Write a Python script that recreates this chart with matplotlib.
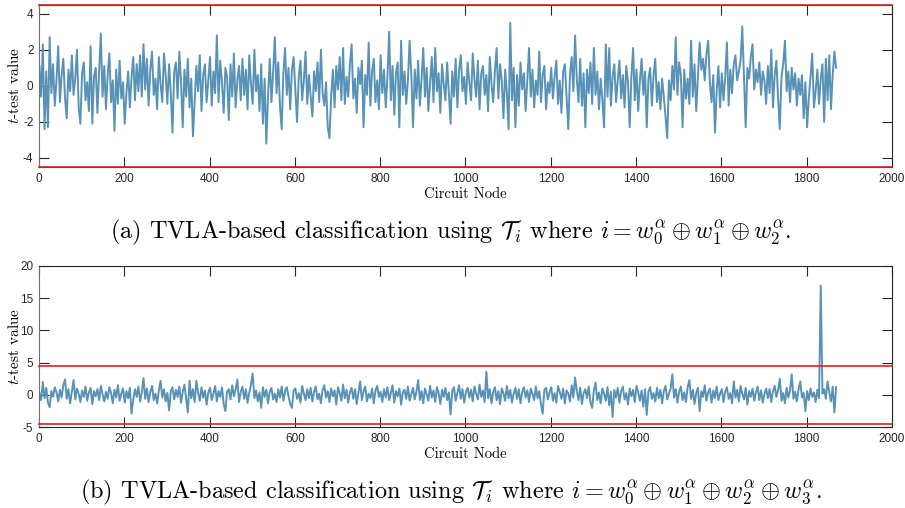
import matplotlib.pyplot as plt
import numpy as np

# t-test value for every 4th circuit node
t_a = [1.1, -0.6, 2.3, -2.4, 0.8, -2.3, 2.7, -0.4, 1.2, -1.1, 0.3, 2.2, -0.9, 0.6, 1.5, -0.7, -1.8, 0.9, -0.3, 1.7,
       -0.5, 0.4, 2.0, -1.2, -2.1, 0.7, 1.3, -0.8, 0.2, -1.4, 2.2, -2.1, 0.5, 1.0, -1.5, 0.8, 2.9, -0.6, 1.1, -1.3,
       0.6, 1.8, -0.9, 0.3, -2.5, 0.9, -1.0, 1.4, -0.7, 0.2, -2.1, -0.4, 0.8, -1.2, 0.5, 1.6, -0.8, 1.2, -0.3, 1.7,
       -0.6, 2.3, -0.2, 1.5, -1.1, 0.9, 1.9, -0.5, 0.4, -1.3, 1.6, 0.1, -0.9, 1.8, 0.6, -1.0, 1.2, -0.4, -2.6, 0.8,
       1.3, -0.7, 1.9, 0.2, -2.3, 0.9, -0.6, 1.5, -1.2, 0.4, -2.8, -0.8, 1.1, -0.3, 1.7, -1.4, 0.6, 1.2, -0.9, 0.3,
       1.6, -1.1, 0.8, -0.4, 2.8, -0.9, 1.4, 0.2, -1.5, 1.0, 0.5, -1.9, 1.2, -0.6, 1.8, -1.2, 0.3, 1.1, -0.8, 1.5,
       -0.5, 0.9, -1.3, 1.7, 0.1, -1.0, 2.0, -0.3, 0.6, -1.4, 1.2, -2.1, 0.4, -3.2, -0.6, 1.5, -0.9, 0.8, 2.7, -0.4,
       1.3, -1.1, -2.4, 0.7, 2.1, -0.5, 1.0, -1.3, 0.9, 1.6, -0.2, -2.0, 0.5, 1.4, -0.8, 0.3, 1.9, -1.0, 0.6, -0.6,
       -1.7, 0.8, -0.3, 1.3, -0.9, 2.0, -0.4, -1.1, 0.2, -2.3, -2.9, -0.6, 0.9, -1.2, 1.1, -0.2, 1.6, -0.8, 2.1, -1.0,
       0.5, -0.6, 1.2, 2.3, -0.7, 0.4, -1.5, 1.0, 0.1, 1.4, -2.3, 0.6, -0.5, 2.4, -1.1, 0.8, 1.5, -0.9, 0.3, -1.3,
       1.7, -0.4, 0.9, -1.2, 0.5, 3.0, -0.8, 1.1, -1.6, 0.7, 1.3, -2.3, 2.5, -0.5, 0.8, -1.0, 0.3, 2.5, 0.6, -2.3,
       0.9, -0.7, 1.4, -1.1, 0.4, 2.1, -0.6, 1.0, -1.4, 0.2, 1.6, -0.9, 2.1, -0.3, 0.7, -1.5, 1.2, 0.1, -0.8, 1.3,
       -0.4, -2.1, 0.8, -0.6, 1.5, -1.2, 0.9, 1.7, -0.3, 0.5, -1.0, 1.3, 0.2, -0.8, 1.8, 0.4, -0.6, 1.4, -1.3, 0.7,
       1.1, -0.5, 0.6, -1.4, 1.6, 0.1, -0.9, 0.8, 2.1, -0.7, 1.2, 0.3, -1.8, 0.9, -0.4, -2.4, 3.5, -0.8, 1.0, -2.3,
       0.6, -1.1, 1.3, -0.2, 0.7, -1.4, 0.4, 2.1, -0.6, 0.9, -1.2, 0.3, -0.5, 1.9, -0.9, 0.6, 1.1, -1.3, 0.2, -0.4,
       1.0, -0.7, 0.5, 1.4, -1.0, 0.3, -1.5, 0.8, 1.2, -0.6, -2.4, 0.6, 1.6, -0.3, 2.8, 0.4, -0.9, 1.5, -1.1, 0.7,
       -2.3, 0.9, -0.4, 1.3, -1.0, 2.1, -0.5, 0.8, -1.3, 0.4, -0.8, -2.3, 2.3, -0.6, 2.1, -1.1, 0.5, 1.2, -0.9, 0.3,
       1.4, -0.7, 0.6, -1.2, 1.1, 0.2, -2.3, 0.5, 2.1, -0.8, 0.9, -1.4, 0.3, 1.5, -0.5, 0.8, -2.3, 0.4, 1.0, -1.1,
       0.6, 1.5, -0.9, 0.2, -1.3, 0.4, -0.6, -1.7, -2.9, 0.3, -0.8, 1.1, -0.2, 2.7, -0.5, 1.3, 0.6, -2.3, 0.9, -0.7,
       0.4, -1.0, 2.5, -0.6, 1.2, -1.4, 0.5, 2.4, 0.9, 1.5, 0.3, 1.8, 2.5, 0.2, -0.9, 0.6, -2.6, -0.3, 1.1, -1.2,
       0.7, -0.8, 0.5, 2.4, -1.1, 0.9, -0.4, 1.2, 1.7, 0.3, 0.8, 1.4, 3.3, 0.5, -2.3, 1.0, 0.4, 1.6, 2.3, -0.2,
       0.9, 0.2, 1.3, -0.5, 0.8, 0.3, -1.0, 1.1, -0.4, 2.0, -1.2, 0.6, 1.4, -0.7, -2.4, 0.5, 1.2, 2.5, -0.3, 0.8,
       -0.9, 1.0, -0.2, 0.7, -1.1, 0.4, -0.5, 0.6, -1.8, 0.2, -2.3, -0.7, 0.5, 1.8, -1.2, -0.3, 0.9, -1.0, 0.4, 1.2,
       -2.0, 1.5, -0.8, 1.7, -1.3, 0.6, 1.9, 1.0]

t_b = [0.3, -0.8, 2.0, -0.5, 1.1, -1.2, -1.9, 0.6, -0.3, 1.2, 0.4, -1.0, 0.8, -0.4, 1.5, 2.4, -0.6, 0.9, -1.3, 0.5,
       2.3, -0.7, 1.0, 0.2, -1.1, 0.7, -0.3, 1.3, -0.9, 0.4, 1.1, -1.4, 0.6, -0.2, 0.9, -0.8, 1.4, 0.1, -1.0, 0.5,
       -0.6, 1.2, 0.3, -1.3, 0.8, -0.4, 1.5, -0.9, 0.2, 1.0, -1.2, 0.6, -0.5, 1.1, -2.9, -0.7, 0.9, -0.3, 1.3, -1.0,
       0.4, 2.6, -0.6, 1.0, -1.1, 0.5, 1.4, -0.8, 0.2, -1.3, 0.7, 2.2, -0.4, 0.9, -1.0, 0.3, -2.4, 0.6, 1.2, -0.7,
       0.8, -0.3, 1.3, -1.2, 0.5, 1.6, -0.6, -2.7, 2.2, -0.5, 0.9, -1.1, 2.2, 0.3, -0.9, 1.2, -0.4, 0.7, -1.5, 0.4,
       1.1, -0.8, 0.2, 1.4, -1.0, 0.6, -0.3, 1.2, -1.4, -2.5, 0.5, 0.9, -0.7, 1.5, -0.2, 0.8, 2.4, -1.1, 0.4, 1.3,
       -0.6, 0.9, -1.2, 0.3, 1.6, 3.3, -0.5, 0.7, -1.0, 0.4, -2.0, 1.2, -0.3, 0.8, -1.3, 0.5, 1.1, -0.7, 0.2, -1.1,
       0.9, -0.4, 1.3, -0.9, 0.6, 1.2, -0.2, -1.4, -2.0, 0.7, 1.0, -0.6, 0.3, -1.2, 1.4, 0.2, -0.8, 0.9, -0.5, 1.1,
       -1.0, 0.5, 1.3, -0.7, 0.2, -1.3, 0.8, 1.5, -0.4, 0.6, -1.1, 1.0, -0.2, 0.7, -1.5, 1.2, 0.3, -0.9, 1.6, -0.5,
       0.8, -1.2, 0.4, 1.1, -0.6, 0.9, -1.4, 0.3, 2.1, -0.8, 0.6, 1.3, -1.0, 0.2, -0.5, 1.0, -1.3, 0.7, 1.4, -0.3,
       0.5, -1.1, 0.9, -0.4, 1.2, -0.8, 0.3, 1.5, -1.2, 0.6, -0.2, 1.0, -1.5, 0.4, 0.8, -0.6, 1.3, -0.9, 0.2, 1.1,
       -0.7, 0.5, 2.3, -0.8, 0.6, -1.3, 1.0, 0.1, -0.9, 1.4, -0.4, 0.7, -1.1, 1.2, 0.3, -1.4, 0.8, -0.3, 1.1, -0.8,
       0.4, -3.0, 0.6, 1.2, -0.9, 0.3, 1.5, -0.6, 0.9, -1.2, 0.5, 1.1, -0.4, 0.8, -1.0, 1.3, 0.2, -0.7, 1.6, -0.3,
       0.7, -1.1, 3.6, -0.5, 0.9, -1.3, 0.4, 1.2, -0.8, 0.6, -1.4, 1.0, 0.3, -0.9, 1.4, -0.5, 0.8, -1.2, 0.2, 1.1,
       -0.6, 0.9, -1.3, 0.5, 1.2, -0.4, 0.7, -1.1, 1.0, 0.2, -0.8, 1.3, -0.5, 0.6, -1.5, -2.9, 0.8, 1.1, -0.7, 0.4,
       1.2, -0.9, 0.3, -1.2, 1.4, 0.5, -0.6, 1.0, -1.3, 0.7, 0.2, -1.0, 1.5, -0.4, 2.7, 0.6, -0.8, 1.1, -1.4, 0.3,
       0.9, -0.5, 1.3, -1.1, -2.0, 0.7, 1.9, -0.8, 0.4, -1.3, 1.0, 0.2, -0.9, 1.2, -1.6, 0.5, -3.4, 0.8, -0.4, 1.1,
       -1.2, 0.6, 1.3, -0.7, 0.3, -1.5, 1.0, -0.2, 0.8, -1.1, 1.4, 0.4, -0.9, 0.7, -1.8, 0.9, -3.1, 0.5, 1.2, -0.6,
       0.3, -1.0, 1.1, -0.5, 0.8, -1.3, 0.6, 1.4, -0.7, 0.2, 1.0, 3.2, -0.4, 0.9, -1.2, 0.5, 1.3, -0.8, 0.4, -1.1,
       1.2, 2.3, -0.6, 0.8, -1.4, 0.3, 1.1, -2.5, 0.6, -0.3, 1.5, -0.9, 0.4, 1.0, -1.2, 0.7, -0.5, 1.3, -0.8, 0.2,
       0.9, -1.1, 0.5, 1.2, -0.6, 0.3, -1.3, 2.1, -0.4, 0.8, -1.0, 1.4, 0.2, -0.7, 1.1, -1.5, 0.6, -0.3, 1.0, -0.9,
       0.4, 1.3, -0.8, 0.7, -1.2, 0.2, 1.0, -0.5, 0.9, -1.1, 0.6, 1.4, -0.3, 0.8, 2.5, -0.9, 0.3, -1.3, 1.1, -0.4,
       0.7, 3.2, -0.6, 0.5, -1.0, 0.9, 2.1, -0.4, 0.3, -2.5, 0.6, -0.8, 1.0, -0.3, 0.4, -1.1, 0.8, -0.5, 16.9, 0.2,
       0.9, -0.6, 2.1, 0.4, -1.0, 1.3, -2.7, 1.2]

node_step = 4
threshold = 4.5
xticks = list(range(0, 2001, 200))
yticks_a = [-4, -2, 0, 2, 4]
yticks_b = [-5, 0, 5, 10, 15, 20]
cap_a = (r"(a) TVLA-based classification using $\mathcal{T}_i$ where "
         r"$i = w_0^{\alpha} \oplus w_1^{\alpha} \oplus w_2^{\alpha}$.")
cap_b = (r"(b) TVLA-based classification using $\mathcal{T}_i$ where "
         r"$i = w_0^{\alpha} \oplus w_1^{\alpha} \oplus w_2^{\alpha} \oplus w_3^{\alpha}$.")

plt.rcParams['mathtext.fontset'] = 'cm'
plt.rcParams['axes.unicode_minus'] = False
plt.rcParams['font.family'] = ['Liberation Sans', 'DejaVu Sans']

fig = plt.figure(figsize=(9.05, 5.08), dpi=100)
ax1 = fig.add_axes([0.0431, 0.6713, 0.9425, 0.3194])
ax2 = fig.add_axes([0.0431, 0.1589, 0.9425, 0.3181])


def draw(ax, vals, ylim, yticks):
    x = np.arange(len(vals)) * node_step + 1
    ax.plot(x, vals, color='#5892b6', lw=1.4)
    ax.axhline(threshold, color='#e0201c', lw=1.2, clip_on=False, zorder=5)
    ax.axhline(-threshold, color='#e0201c', lw=1.2, clip_on=False, zorder=5)
    ax.set_xlim(0, 2000)
    ax.set_ylim(ylim)
    ax.set_xticks(xticks)
    ax.set_yticks(yticks)
    ax.tick_params(direction='in', length=7, width=0.8, top=True, right=True,
                   labelsize=8.5, colors='#262626', pad=4)
    for s in ax.spines.values():
        s.set_color('#262626')
        s.set_linewidth(0.8)
    ax.spines['left'].set_color('#707070')
    ax.set_xlabel('Circuit Node', family='cmr10', fontsize=10.5, labelpad=2)
    ax.set_ylabel(r'$t$-test value', family='cmr10', fontsize=11)
    ax.yaxis.set_label_coords(-0.020, 0.5)


draw(ax1, t_a, (-4.5, 4.5), yticks_a)
draw(ax2, t_b, (-5, 20), yticks_b)

fig.text(0.498, 0.543, cap_a, family='cmr10', fontsize=17.5, ha='center', va='center')
fig.text(0.498, 0.031, cap_b, family='cmr10', fontsize=17.5, ha='center', va='center')

fig.savefig('out.png', dpi=100)
